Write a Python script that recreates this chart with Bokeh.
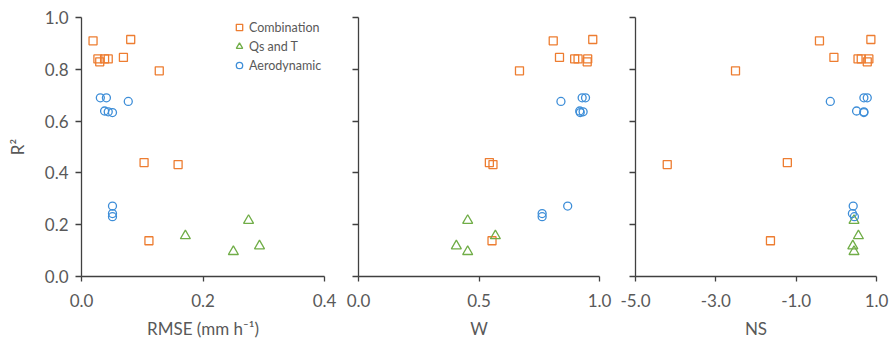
from bokeh.plotting import figure
from bokeh.layouts import row
from bokeh.models import (FixedTicker, NumeralTickFormatter, CustomJSTickFormatter,
                          Range1d, Legend, LegendItem)
from bokeh.embed import file_html
from bokeh.resources import INLINE

# Model performance: R² against RMSE, Willmott's W and Nash–Sutcliffe NS
comb_r2 = [0.910, 0.915, 0.846, 0.840, 0.840, 0.840, 0.829, 0.794, 0.440, 0.432, 0.138]
comb_rmse = [0.019, 0.081, 0.069, 0.027, 0.038, 0.044, 0.030, 0.128, 0.103, 0.159, 0.111]
comb_w = [0.808, 0.972, 0.834, 0.897, 0.911, 0.951, 0.949, 0.668, 0.543, 0.558, 0.554]
comb_ns = [-0.42, 0.86, -0.06, 0.54, 0.62, 0.81, 0.77, -2.51, -1.22, -4.21, -1.64]

qst_r2 = [0.216, 0.157, 0.118, 0.096]
qst_rmse = [0.275, 0.171, 0.293, 0.250]
qst_w = [0.453, 0.568, 0.406, 0.453]
qst_ns = [0.44, 0.55, 0.41, 0.44]

aero_r2 = [0.690, 0.690, 0.676, 0.639, 0.636, 0.633, 0.272, 0.243, 0.231]
aero_rmse = [0.031, 0.041, 0.077, 0.038, 0.044, 0.051, 0.051, 0.051, 0.051]
aero_w = [0.928, 0.942, 0.840, 0.918, 0.932, 0.920, 0.868, 0.762, 0.762]
aero_ns = [0.686, 0.77, -0.15, 0.504, 0.686, 0.686, 0.42, 0.40, 0.45]

series_names = ["Combination", "Qs and T", "Aerodynamic"]
y_ticks = [0.0, 0.2, 0.4, 0.6, 0.8, 1.0]

ORANGE = "#ED7D31"
GREEN = "#70AD47"
BLUE = "#3E8ED8"
TEXT = "#595959"
AXIS = "#404040"
FONT = "Lato"

FRAME_H = 259


def make_panel(xs, x_range, x_ticks, x_label, border_left, frame_w, border_right, first):
    p = figure(frame_width=frame_w, frame_height=FRAME_H,
               min_border_left=border_left, min_border_right=border_right,
               min_border_top=17, min_border_bottom=69,
               x_range=Range1d(*x_range), y_range=Range1d(0, 1),
               output_backend="svg", toolbar_location=None)
    p.outline_line_color = None
    p.grid.visible = False
    p.background_fill_color = "white"
    p.border_fill_color = "white"

    xa = p.xaxis[0]
    xa.ticker = FixedTicker(ticks=x_ticks)
    xa.formatter = NumeralTickFormatter(format="0.0")
    xa.axis_label = x_label
    xa.major_tick_out = 5
    xa.major_tick_in = 0
    xa.major_label_standoff = 12
    xa.axis_label_standoff = 8

    ya = p.yaxis[0]
    ya.ticker = FixedTicker(ticks=y_ticks)
    ya.major_tick_out = 6
    ya.major_tick_in = 0
    if first:
        ya.formatter = NumeralTickFormatter(format="0.0")
        ya.axis_label = "R²"
        ya.major_label_standoff = 7
        ya.axis_label_standoff = 14
    else:
        ya.formatter = CustomJSTickFormatter(code="return ''")
        ya.major_label_standoff = 0

    for ax in (xa, ya):
        ax.minor_tick_line_color = None
        ax.axis_line_color = AXIS
        ax.axis_line_width = 1.3
        ax.major_tick_line_color = AXIS
        ax.major_tick_line_width = 1.3
        ax.major_label_text_font = FONT
        ax.major_label_text_font_size = "17px"
        ax.major_label_text_color = TEXT
        ax.axis_label_text_font = FONT
        ax.axis_label_text_font_size = "17px"
        ax.axis_label_text_font_style = "normal"
        ax.axis_label_text_color = TEXT

    r_comb = p.scatter(xs[0], comb_r2, marker="square", size=8, fill_color=None,
                       line_color=ORANGE, line_width=1.3)
    r_qst = p.scatter(xs[1], qst_r2, marker="triangle", size=10, fill_color=None,
                      line_color=GREEN, line_width=1.3)
    r_aero = p.scatter(xs[2], aero_r2, marker="circle", size=8, fill_color=None,
                       line_color=BLUE, line_width=1.3)

    if first:
        items = [LegendItem(label=n, renderers=[r])
                 for n, r in zip(series_names, [r_comb, r_qst, r_aero])]
        legend = Legend(items=items, location=(150, 203),
                        border_line_color=None, background_fill_alpha=0,
                        padding=0, margin=0, spacing=3,
                        glyph_width=16, glyph_height=16, label_height=16,
                        label_standoff=2,
                        label_text_font=FONT, label_text_font_size="12.5px",
                        label_text_color=TEXT)
        p.add_layout(legend)
    return p


p1 = make_panel([comb_rmse, qst_rmse, aero_rmse], (0, 0.4), [0.0, 0.2, 0.4],
                "RMSE (mm h⁻¹)", 81, 243, 16, True)
p2 = make_panel([comb_w, qst_w, aero_w], (0, 1.0), [0.0, 0.5, 1.0],
                "W", 18, 241, 16, False)
p3 = make_panel([comb_ns, qst_ns, aero_ns], (-5.0, 1.0), [-5.0, -3.0, -1.0, 1.0],
                "NS", 20, 241, 14, False)

layout = row(p1, p2, p3)
open("out.html", "w").write(file_html(layout, INLINE))
